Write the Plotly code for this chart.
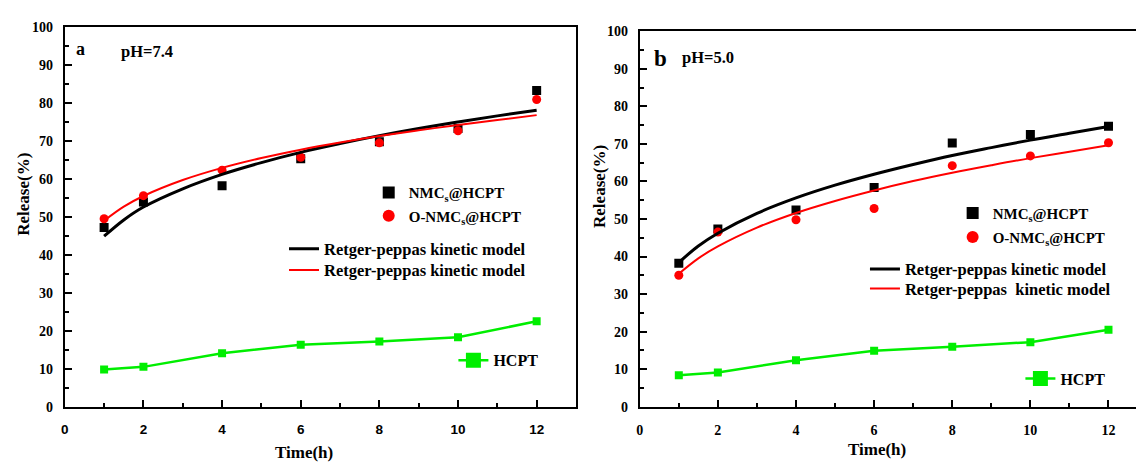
import plotly.graph_objects as go

W, H = 1136, 467

# ---------------- data ----------------
t_pts = [1, 2, 4, 6, 8, 10, 12]
t_fit = [1, 1.5, 2, 3, 4, 5, 6, 7, 8, 9, 10, 11, 12]

# panel a (pH 7.4)
a_nmc = [47.2, 53.9, 58.2, 65.3, 69.8, 73.3, 83.3]
a_onmc = [49.5, 55.6, 62.3, 65.7, 69.5, 72.7, 80.9]
a_fit_nmc = [44.9, 49.2, 52.6, 57.4, 61.2, 64.3, 67.0, 69.3, 71.4, 73.3, 75.0, 76.6, 78.1]
a_fit_onmc = [49.0, 52.7, 55.5, 59.7, 62.9, 65.5, 67.7, 69.6, 71.3, 72.8, 74.2, 75.5, 76.8]
a_hcpt = [9.8, 10.5, 14.1, 16.3, 17.2, 18.3, 22.5]

# panel b (pH 5.0)
b_nmc = [38.2, 47.3, 52.4, 58.4, 70.2, 72.5, 74.7]
b_onmc = [35.0, 46.5, 49.8, 52.8, 64.2, 66.8, 70.3]
b_fit_nmc = [38.4, 42.8, 46.2, 51.5, 55.6, 59.0, 61.9, 64.5, 66.9, 69.0, 71.0, 72.8, 74.6]
b_fit_onmc = [35.4, 39.5, 42.7, 47.7, 51.6, 54.8, 57.6, 60.1, 62.3, 64.3, 66.2, 67.9, 69.6]
b_hcpt = [8.4, 9.1, 12.4, 14.9, 16.0, 17.2, 20.5]

name_nmc = "NMC<sub>s</sub>@HCPT"
name_onmc = "O-NMC<sub>s</sub>@HCPT"
name_fit = "Retger-peppas kinetic model"
name_fit_b2 = "Retger-peppas  kinetic model"
name_hcpt = "HCPT"

BLACK = "#000000"
RED = "#ff0000"
GREEN = "#00ee00"
SERIF = "Liberation Serif"
SANS = "Liberation Sans"

def px(x):
    return x / W

def py(y):
    return (H - y) / H

fig = go.Figure()

def add_panel(sfx, nmc, onmc, fit_nmc, fit_onmc, hcpt, legs, fit2name):
    xa = "x" if sfx == "" else "x" + sfx
    ya = "y" if sfx == "" else "y" + sfx
    fig.add_trace(go.Scatter(x=t_pts, y=nmc, mode="markers", name=name_nmc,
                             marker=dict(symbol="square", size=9, color=BLACK),
                             xaxis=xa, yaxis=ya, legend=legs[0]))
    fig.add_trace(go.Scatter(x=t_pts, y=onmc, mode="markers", name=name_onmc,
                             marker=dict(symbol="circle", size=9, color=RED),
                             xaxis=xa, yaxis=ya, legend=legs[1]))
    fig.add_trace(go.Scatter(x=t_fit, y=fit_nmc, mode="lines", name=name_fit,
                             line=dict(color=BLACK, width=3, shape="spline"),
                             xaxis=xa, yaxis=ya, legend=legs[2]))
    fig.add_trace(go.Scatter(x=t_fit, y=fit_onmc, mode="lines", name=fit2name,
                             line=dict(color=RED, width=2, shape="spline"),
                             xaxis=xa, yaxis=ya, legend=legs[3]))
    fig.add_trace(go.Scatter(x=t_pts, y=hcpt, mode="lines+markers", name=name_hcpt,
                             line=dict(color=GREEN, width=2.5),
                             marker=dict(symbol="square", size=8, color=GREEN),
                             xaxis=xa, yaxis=ya, showlegend=False))
    # legend key for HCPT (bigger symbol, as in the original key)
    fig.add_trace(go.Scatter(x=[None], y=[None], mode="lines+markers", name=name_hcpt,
                             line=dict(color=GREEN, width=2.5),
                             marker=dict(symbol="square", size=15, color=GREEN),
                             xaxis=xa, yaxis=ya, legend=legs[4]))

add_panel("", a_nmc, a_onmc, a_fit_nmc, a_fit_onmc, a_hcpt,
          ["legend", "legend2", "legend3", "legend4", "legend5"], name_fit)
add_panel("2", b_nmc, b_onmc, b_fit_nmc, b_fit_onmc, b_hcpt,
          ["legend6", "legend7", "legend8", "legend9", "legend10"], name_fit_b2)

def leg(x, y, size, sizing="constant"):
    return dict(x=px(x), y=py(y), xanchor="left", yanchor="middle",
                bgcolor="rgba(0,0,0,0)", borderwidth=0,
                font=dict(family=SERIF, size=size, color=BLACK, weight="bold"),
                itemsizing=sizing, tracegroupgap=0)

legs = {
    "legend": leg(366, 192, 15),
    "legend2": leg(366, 216, 15),
    "legend3": leg(281, 250, 16.5, "trace"),
    "legend4": leg(281, 272, 16.5, "trace"),
    "legend5": leg(451, 365, 16, "trace"),
    "legend6": leg(952, 213, 15),
    "legend7": leg(952, 238, 15),
    "legend8": leg(864, 271, 16.5, "trace"),
    "legend9": leg(864, 291, 16.5, "trace"),
    "legend10": leg(1020, 384, 16, "trace"),
}

def xaxis(domain, rng, tickfam, size, mirror=True):
    return dict(domain=domain, range=rng, tickmode="linear", tick0=0, dtick=2,
                ticks="inside", ticklen=7, tickwidth=2, tickcolor=BLACK,
                minor=dict(dtick=1, tick0=0, ticks="inside", ticklen=4, tickwidth=2, tickcolor=BLACK),
                showline=True, linecolor=BLACK, linewidth=2, mirror=mirror,
                showgrid=False, zeroline=False, ticklabelstandoff=9,
                tickfont=dict(family=tickfam, size=size, color=BLACK, weight="bold"))

def yaxis(domain, tickfam, mirror=True):
    return dict(domain=domain, range=[0, 100], tickmode="linear", tick0=0, dtick=10,
                ticks="inside", ticklen=7, tickwidth=2, tickcolor=BLACK,
                minor=dict(dtick=5, tick0=0, ticks="inside", ticklen=4, tickwidth=2, tickcolor=BLACK),
                showline=True, linecolor=BLACK, linewidth=2, mirror=mirror,
                showgrid=False, zeroline=False, ticklabelstandoff=7,
                tickfont=dict(family=tickfam, size=14, color=BLACK, weight="bold"))

xa1 = xaxis([px(61), px(574)], [0, 13], SANS, 13.5)
xa1["anchor"] = "y"
ya1 = yaxis([py(413), py(20.7)], SERIF)
ya1["anchor"] = "x"
xa2 = xaxis([px(638), 1.0], [0, (1136 - 638) / 39.2], SERIF, 14)
xa2["anchor"] = "y2"
ya2 = yaxis([py(413), py(25)], SERIF, mirror=False)
ya2["anchor"] = "x2"

def ann(text, x, y, size, xanchor="center", angle=0):
    return dict(text=text, x=px(x), y=py(y), xref="paper", yref="paper",
                xanchor=xanchor, yanchor="middle", showarrow=False, textangle=angle,
                font=dict(family=SERIF, size=size, color=BLACK, weight="bold"))

annotations = [
    ann("a", 77, 43, 18),
    ann("pH=7.4", 115, 46, 16.5, "left"),
    ann("b", 659, 53, 23),
    ann("pH=5.0", 678, 52, 16.5, "left"),
    ann("Release(%)", 20, 193, 17, angle=-90),
    ann("Release(%)", 597, 185, 17, angle=-90),
    ann("Time(h)", 301, 460, 17),
    ann("Time(h)", 876, 457, 17),
]

fig.update_layout(
    width=W, height=H, margin=dict(l=0, r=0, t=0, b=0),
    paper_bgcolor="white", plot_bgcolor="white",
    xaxis=xa1, yaxis=ya1, xaxis2=xa2, yaxis2=ya2,
    annotations=annotations,
    **legs,
)

fig.write_html("out.html")
